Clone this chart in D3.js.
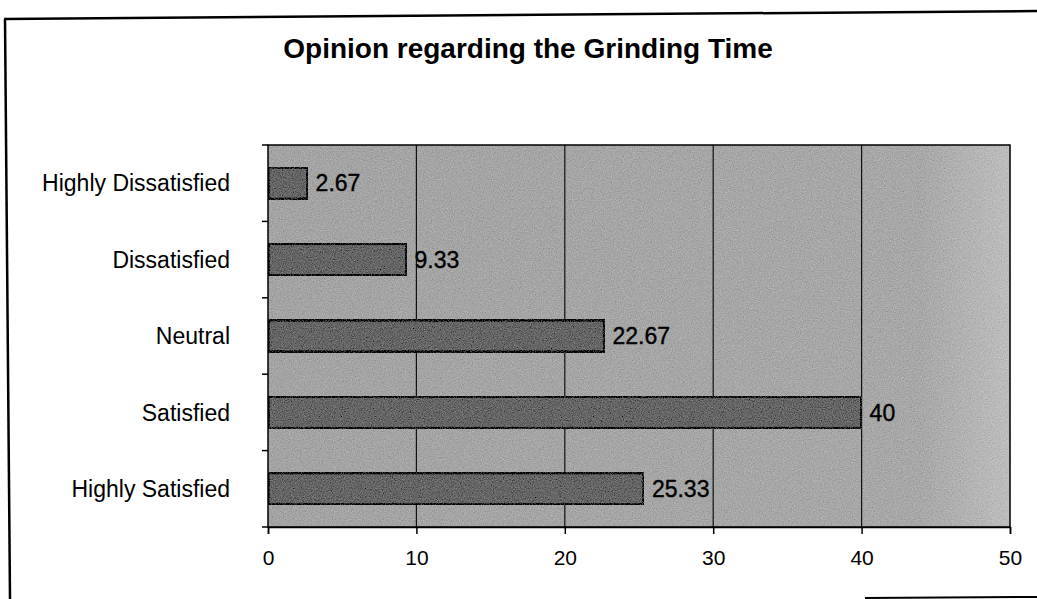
<!DOCTYPE html>
<html>
<head>
<meta charset="utf-8">
<script src="https://cdn.jsdelivr.net/npm/d3@7"></script>
<style>
  html, body { margin: 0; padding: 0; background: #fff; }
  svg { display: block; font-family: "Liberation Sans", Arial, sans-serif; }
</style>
</head>
<body>
<svg id="chart" width="1037" height="599"></svg>
<script>
const title = "Opinion regarding the Grinding Time";
const categories = ["Highly Dissatisfied", "Dissatisfied", "Neutral", "Satisfied", "Highly Satisfied"];
const values = [2.67, 9.33, 22.67, 40, 25.33];
const valueLabels = ["2.67", "9.33", "22.67", "40", "25.33"];
const xTicks = [0, 10, 20, 30, 40, 50];

const svg = d3.select("#chart");
const margin = { left: 268, right: 27, top: 145, bottom: 72 };
const W = 1037, H = 599;
const plotW = W - margin.left - margin.right;
const plotH = H - margin.top - margin.bottom;

const defs = svg.append("defs");
const grad = defs.append("linearGradient").attr("id", "bg").attr("x1", 0).attr("x2", 1).attr("y1", 0).attr("y2", 0);
grad.append("stop").attr("offset", "0%").attr("stop-color", "#a4a4a4");
grad.append("stop").attr("offset", "88%").attr("stop-color", "#a8a8a8");
grad.append("stop").attr("offset", "100%").attr("stop-color", "#bdbdbd");

const f = defs.append("filter").attr("id", "grain").attr("x", 0).attr("y", 0).attr("width", 1).attr("height", 1);
f.append("feTurbulence").attr("type", "fractalNoise").attr("baseFrequency", "0.9").attr("numOctaves", 2).attr("seed", 4).attr("result", "noise");
f.append("feColorMatrix").attr("in", "noise").attr("type", "matrix")
  .attr("values", "0.33 0.33 0.33 0 0  0.33 0.33 0.33 0 0  0.33 0.33 0.33 0 0  0 0 0 0 1").attr("result", "gn");
f.append("feComposite").attr("in", "SourceGraphic").attr("in2", "gn").attr("operator", "arithmetic")
  .attr("k1", 0).attr("k2", 1).attr("k3", 0.5).attr("k4", -0.25);

// Outer frame (scanned page border)
svg.append("line").attr("x1", 4).attr("y1", 19).attr("x2", W).attr("y2", 11)
  .attr("stroke", "#000").attr("stroke-width", 2.5);
svg.append("line").attr("x1", 5).attr("y1", 19).attr("x2", 10).attr("y2", H)
  .attr("stroke", "#000").attr("stroke-width", 2.5);
svg.append("line").attr("x1", 865).attr("y1", 598).attr("x2", W).attr("y2", 597)
  .attr("stroke", "#000").attr("stroke-width", 2);

// Title
svg.append("text").attr("x", 528).attr("y", 58).attr("text-anchor", "middle")
  .attr("font-size", 28).attr("font-weight", "bold").attr("fill", "#000").text(title);

const g = svg.append("g").attr("transform", `translate(${margin.left},${margin.top})`);

const x = d3.scaleLinear().domain([0, 50]).range([0, plotW]);
const y = d3.scaleBand().domain(categories).range([0, plotH]).paddingInner(0.58).paddingOuter(0.29);

// plot area
g.append("rect").attr("width", plotW).attr("height", plotH)
  .attr("fill", "url(#bg)").attr("filter", "url(#grain)");

// gridlines
g.append("g").selectAll("line").data(xTicks.slice(1, -1)).join("line")
  .attr("x1", d => x(d)).attr("x2", d => x(d)).attr("y1", 0).attr("y2", plotH)
  .attr("stroke", "#111").attr("stroke-width", 1.2);

// bars
g.append("g").selectAll("rect").data(values).join("rect")
  .attr("x", 0).attr("y", (d, i) => y(categories[i]))
  .attr("width", d => x(d)).attr("height", y.bandwidth())
  .attr("fill", "#666666").attr("stroke", "#000").attr("stroke-width", 3)
  .attr("filter", "url(#grain)");

// value labels
g.append("g").selectAll("text").data(values).join("text")
  .attr("x", d => x(d) + 8).attr("y", (d, i) => y(categories[i]) + y.bandwidth() / 2)
  .attr("dy", "0.36em").attr("font-size", 23).attr("fill", "#000")
  .attr("stroke", "#000").attr("stroke-width", 0.4)
  .text((d, i) => valueLabels[i]);

// plot border
g.append("rect").attr("width", plotW).attr("height", plotH)
  .attr("fill", "none").attr("stroke", "#000").attr("stroke-width", 1.5);

// x axis
const xAxis = g.append("g").attr("transform", `translate(0,${plotH})`)
  .call(d3.axisBottom(x).tickValues(xTicks).tickSize(7).tickPadding(16).tickFormat(d3.format("d")));
xAxis.select(".domain").attr("stroke", "#000").attr("stroke-width", 1.5);
xAxis.selectAll("line").attr("stroke", "#000").attr("stroke-width", 1.5);
xAxis.selectAll("text").attr("font-size", 21).attr("fill", "#000")
  .attr("font-family", "Liberation Sans, Arial, sans-serif");

// y axis: category labels and boundary ticks
const boundaries = d3.range(categories.length + 1).map(i => i * plotH / categories.length);
g.append("g").selectAll("line").data(boundaries).join("line")
  .attr("x1", -6).attr("x2", 0).attr("y1", d => d).attr("y2", d => d)
  .attr("stroke", "#000").attr("stroke-width", 1.5);
g.append("g").selectAll("text").data(categories).join("text")
  .attr("x", -38).attr("y", d => y(d) + y.bandwidth() / 2)
  .attr("dy", "0.36em").attr("text-anchor", "end").attr("font-size", 23).attr("fill", "#000")
  .text(d => d);
</script>
</body>
</html>
